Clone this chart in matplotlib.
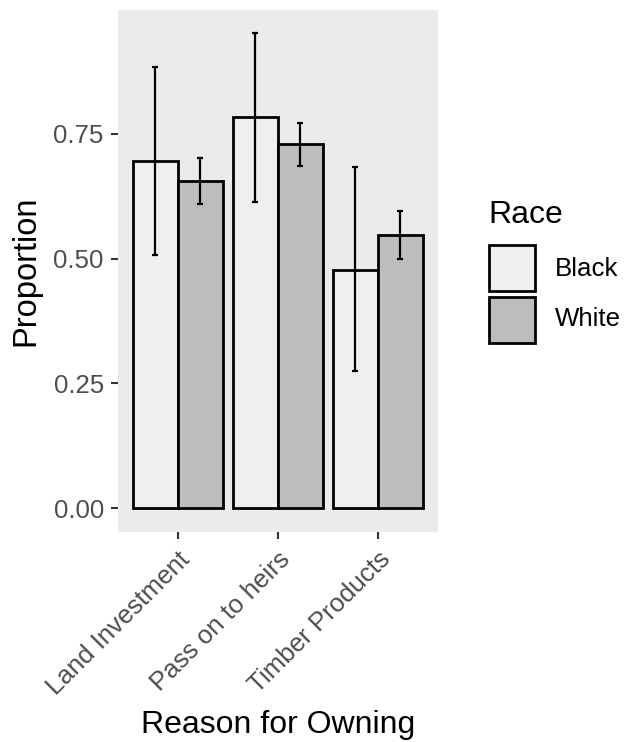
import numpy as np
import matplotlib
matplotlib.use("Agg")
import matplotlib.pyplot as plt
from matplotlib.patches import Rectangle

plt.rcParams['font.family'] = ['Liberation Sans', 'DejaVu Sans']

# datos
razones = ['Land Investment', 'Pass on to heirs', 'Timber Products']
razas = ['Black', 'White']
prop_black = [0.695, 0.783, 0.477]
prop_white = [0.655, 0.729, 0.547]
inf_black = [0.507, 0.614, 0.275]
sup_black = [0.883, 0.951, 0.683]
inf_white = [0.609, 0.685, 0.500]
sup_white = [0.702, 0.772, 0.596]

colores = {'Black': '#EFEFEF', 'White': '#BDBDBD'}

W, H = 624, 742
fig = plt.figure(figsize=(W / 100, H / 100), dpi=100)
ax = fig.add_axes([117.7 / W, 1 - 532 / H, 320 / W, 522 / H])
ax.set_facecolor('#EBEBEB')

x = np.arange(1, len(razones) + 1)
ancho = 0.45
series = [
    ('Black', prop_black, inf_black, sup_black, -ancho / 2),
    ('White', prop_white, inf_white, sup_white, ancho / 2),
]
for nombre, vals, inf, sup, desp in series:
    vals = np.array(vals)
    ax.bar(x + desp, vals, width=ancho, color=colores[nombre],
           edgecolor='black', linewidth=2, zorder=2, label=nombre)
    err = [vals - np.array(inf), np.array(sup) - vals]
    ax.errorbar(x + desp, vals, yerr=err, fmt='none', ecolor='black',
                elinewidth=1.6, capsize=2.5, capthick=1.6, zorder=3)

ax.set_xlim(0.4, 3.6)
ax.set_ylim(-0.0475, 0.998)
ax.set_yticks([0, 0.25, 0.5, 0.75])
ax.set_yticklabels(['0.00', '0.25', '0.50', '0.75'])
ax.set_xticks(x)
ax.set_xticklabels(razones, rotation=45, ha='right', va='top',
                   rotation_mode='anchor')
for s in ax.spines.values():
    s.set_visible(False)
ax.tick_params(axis='both', colors='#333333', labelcolor='#4D4D4D',
               labelsize=18.6, length=5, width=1.5)
ax.tick_params(axis='y', pad=5)
ax.tick_params(axis='x', pad=6)

ax.set_xlabel('Reason for Owning', fontsize=23)
ax.xaxis.label.set_verticalalignment('baseline')
ax.xaxis.set_label_coords((278 - 117.7) / 320, (532 - 733) / 522)
ax.set_ylabel('Proportion', fontsize=23.5)
ax.yaxis.set_label_coords((41 - 117.7) / 320, 0.5)

# leyenda dibujada a mano (en pixeles de la figura)
def px(xp, yp):
    return xp / W, 1 - yp / H

fig.text(*px(488, 223), 'Race', fontsize=23, va='baseline', ha='left')
for i, r in enumerate(razas):
    y_sup = 245.5 + i * 51
    fig.patches.append(Rectangle(px(489, y_sup + 46), 46 / W, 46 / H,
                                 transform=fig.transFigure,
                                 facecolor=colores[r], edgecolor='black',
                                 linewidth=2))
    fig.text(*px(555, y_sup + 23), r, fontsize=18.6, va='center',
             ha='left')

fig.savefig('out.png', dpi=100)
